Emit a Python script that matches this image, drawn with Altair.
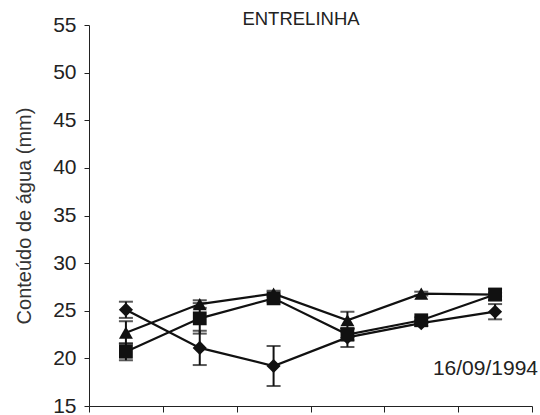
import altair as alt
import pandas as pd

categories = [1, 2, 3, 4, 5, 6]
series_names = ["diamond", "triangle", "square"]
diamond = [25.1, 21.1, 19.2, 22.2, 23.7, 24.9]
diamond_err = [0.85, 1.8, 2.1, 1.0, 0.3, 0.8]
triangle = [22.7, 25.7, 26.8, 24.0, 26.8, 26.7]
triangle_err = [1.2, 0.4, 0.3, 0.9, 0.2, 0.2]
square = [20.7, 24.2, 26.3, 22.5, 24.0, 26.7]
square_err = [0.9, 1.6, 0.4, 0.6, 0.3, 0.6]
y_ticks = [15, 20, 25, 30, 35, 40, 45, 50, 55]
x_edges = [0.5, 1.5, 2.5, 3.5, 4.5, 5.5, 6.5]

rows = []
for name, vals, errs in [("diamond", diamond, diamond_err),
                         ("triangle", triangle, triangle_err),
                         ("square", square, square_err)]:
    for c, v, e in zip(categories, vals, errs):
        rows.append({"cat": c, "serie": name, "v": v, "lo": v - e, "hi": v + e})
df = pd.DataFrame(rows)

FONT = "Liberation Sans"

x_enc = alt.X("cat:Q", scale=alt.Scale(domain=[0.5, 6.5], nice=False, zero=False),
              axis=alt.Axis(values=x_edges, labels=False, title=None, grid=False,
                            tickSize=6, domainColor="#222", tickColor="#222"))
y_enc = alt.Y("v:Q", scale=alt.Scale(domain=[15, 55], nice=False, zero=False),
              axis=alt.Axis(values=y_ticks, title="Conteúdo de água (mm)", grid=False,
                            tickSize=5, labelFontSize=21, labelFont=FONT, labelColor="#222",
                            labelPadding=8, titleFontSize=20, titleFont=FONT,
                            titleFontWeight="normal", titleColor="#333", titlePadding=18,
                            domainColor="#222", tickColor="#222"))

base = alt.Chart(df)

lines = base.mark_line(color="#111", strokeWidth=2.2).encode(
    x=x_enc, y=y_enc, detail="serie:N")

rules = base.mark_rule(color="#111", strokeWidth=2).encode(
    x="cat:Q", y="lo:Q", y2="hi:Q")

caps_lo = base.mark_tick(color="#111", thickness=2, size=14, orient="horizontal").encode(
    x="cat:Q", y="lo:Q")
caps_hi = base.mark_tick(color="#111", thickness=2, size=14, orient="horizontal").encode(
    x="cat:Q", y="hi:Q")

points = base.mark_point(filled=True, opacity=1, color="#111").encode(
    x="cat:Q", y="v:Q",
    shape=alt.Shape("serie:N", scale=alt.Scale(domain=series_names,
                                                range=["diamond", "triangle-up", "square"]),
                    legend=None),
    size=alt.Size("serie:N", scale=alt.Scale(domain=series_names, range=[200, 190, 180]),
                  legend=None))

title_txt = alt.Chart(pd.DataFrame({"t": ["ENTRELINHA"]})).mark_text(
    font=FONT, fontSize=18.5, color="#222", align="center", baseline="alphabetic").encode(
    text="t:N", x=alt.value(212), y=alt.value(0))

date_txt = alt.Chart(pd.DataFrame({"t": ["16/09/1994"]})).mark_text(
    font=FONT, fontSize=21, color="#222", align="right", baseline="alphabetic").encode(
    text="t:N", x=alt.value(449), y=alt.value(350))

chart = alt.layer(lines, rules, caps_lo, caps_hi, points, title_txt, date_txt).properties(
    width=443, height=381,
    autosize=alt.AutoSizeParams(type="none"),
    padding={"left": 89, "top": 25, "right": 8, "bottom": 9},
    background="white",
).configure_view(stroke=None)

chart.save("out.html", embed_options={"renderer": "svg", "actions": False})
